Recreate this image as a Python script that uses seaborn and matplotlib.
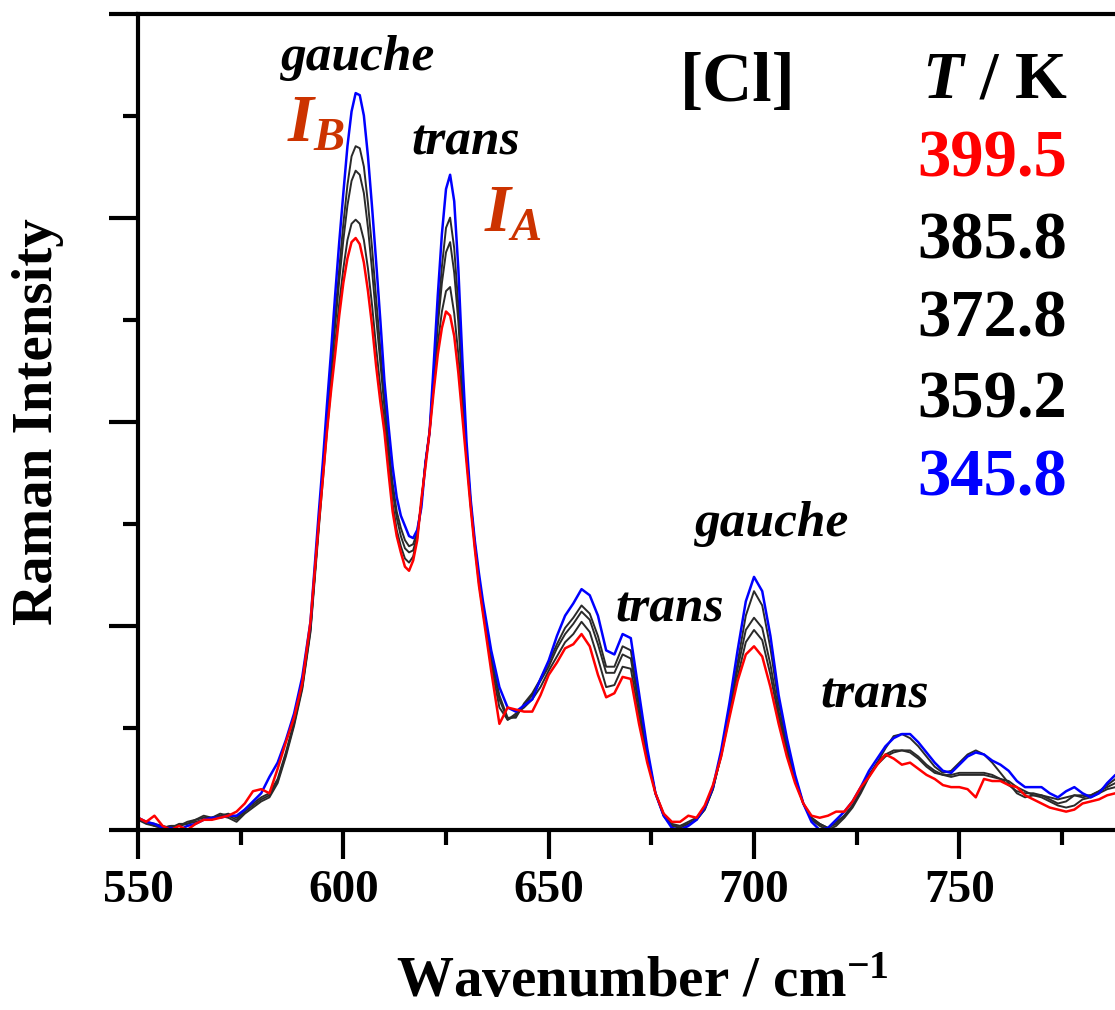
import numpy as np
import seaborn as sns
import matplotlib.pyplot as plt
from matplotlib.ticker import MultipleLocator

# Raman spectra of [Cl] at several temperatures
wavenumber = list(range(550, 593, 2)) + list(range(594, 635)) + list(range(636, 789, 2))

int_3458 = [.06, .04, .03, .01, .01, .00, .02, .03, .05, .06, .06, .07, .07, .10, .14, .18, .26, .33, .44, .57, .75, 1.02,
            1.55, 1.80, 2.08, 2.34, 2.62, 2.88, 3.12, 3.35, 3.52, 3.61, 3.60, 3.50, 3.30, 3.05, 2.78, 2.50, 2.20, 1.98, 1.78, 1.63,
            1.54, 1.49, 1.44, 1.43, 1.47, 1.58, 1.80, 1.95, 2.28, 2.62, 2.92, 3.14, 3.21, 3.08, 2.75, 2.30, 1.90, 1.62, 1.42, 1.26, 1.12,
            .88, .70, .60, .58, .61, .64, .74, .83, .95, 1.05, 1.11,
            1.18, 1.15, 1.05, .88, .86, .96, .94,
            .67, .40, .18, .07, .01,
            .00, .02, .05, .11, .21,
            .39, .62, .88, 1.12, 1.24,
            1.17, .95, .66, .45, .27,
            .13, .04, .00, .01, .05,
            .09, .14, .21, .29, .35,
            .41, .45, .47, .47, .43,
            .38, .33, .29, .28, .32,
            .36, .38, .37, .34, .32,
            .29, .24, .21, .21, .21,
            .18, .16, .19, .21, .18,
            .16, .18, .23, .27]

int_3592 = [.05, .03, .02, .01, .02, .02, .04, .05, .06, .06, .08, .07, .05, .09, .12, .15, .17, .24, .37, .52, .70, .98,
            1.50, 1.76, 2.02, 2.27, 2.52, 2.75, 2.97, 3.16, 3.30, 3.35, 3.34, 3.25, 3.07, 2.85, 2.60, 2.36, 2.11, 1.90, 1.70, 1.56,
            1.48, 1.42, 1.39, 1.40, 1.46, 1.60, 1.80, 1.95, 2.24, 2.52, 2.76, 2.95, 3.00, 2.85, 2.57, 2.20, 1.86, 1.61, 1.41, 1.24, 1.10,
            .85, .66, .55, .55, .62, .67, .74, .82, .91, .99, 1.04,
            1.10, 1.06, .95, .80, .80, .90, .88,
            .62, .38, .18, .07, .02,
            .01, .03, .05, .10, .20,
            .37, .59, .82, 1.05, 1.17,
            1.10, .89, .62, .42, .26,
            .13, .05, .02, .00, .02,
            .06, .11, .18, .26, .33,
            .40, .46, .47, .45, .41,
            .36, .31, .28, .29, .33,
            .37, .39, .37, .33, .28,
            .23, .18, .16, .17, .17,
            .15, .13, .14, .17, .17,
            .17, .19, .22, .25]

int_3728 = [.06, .04, .03, .02, .01, .03, .03, .04, .05, .06, .07, .08, .06, .10, .13, .16, .18, .25, .38, .53, .71, .99,
            1.49, 1.74, 1.99, 2.24, 2.47, 2.69, 2.89, 3.06, 3.18, 3.23, 3.21, 3.12, 2.95, 2.74, 2.51, 2.29, 2.07, 1.86, 1.66, 1.53,
            1.44, 1.38, 1.36, 1.37, 1.44, 1.60, 1.80, 1.95, 2.21, 2.47, 2.68, 2.83, 2.88, 2.73, 2.49, 2.15, 1.85, 1.60, 1.40, 1.23, 1.09,
            .84, .64, .54, .56, .61, .66, .73, .80, .89, .96, 1.01,
            1.07, 1.03, .91, .77, .77, .86, .84,
            .60, .37, .18, .07, .02,
            .02, .03, .05, .10, .20,
            .37, .58, .79, .98, 1.04,
            .99, .81, .58, .40, .25,
            .13, .06, .03, .01, .03,
            .07, .12, .19, .27, .33,
            .37, .39, .39, .39, .36,
            .32, .29, .27, .27, .28,
            .28, .28, .28, .27, .25,
            .22, .19, .18, .18, .17,
            .16, .15, .16, .17, .16,
            .17, .19, .21, .23]

int_3858 = [.05, .04, .02, .01, .02, .02, .03, .05, .07, .06, .07, .06, .04, .08, .11, .14, .16, .23, .36, .51, .69, .97,
            1.47, 1.71, 1.95, 2.17, 2.38, 2.58, 2.75, 2.89, 2.97, 2.99, 2.97, 2.89, 2.75, 2.57, 2.36, 2.17, 2.00, 1.79, 1.60, 1.47,
            1.39, 1.33, 1.31, 1.34, 1.43, 1.61, 1.80, 1.95, 2.17, 2.38, 2.54, 2.64, 2.66, 2.53, 2.33, 2.07, 1.82, 1.59, 1.39, 1.21, 1.07,
            .81, .60, .54, .57, .60, .64, .70, .78, .85, .92, .96,
            1.02, .97, .84, .70, .71, .80, .79,
            .56, .35, .18, .08, .03,
            .02, .04, .06, .11, .21,
            .36, .56, .75, .92, .98,
            .93, .76, .55, .38, .24,
            .13, .06, .03, .01, .04,
            .07, .12, .19, .27, .32,
            .36, .38, .39, .38, .35,
            .31, .28, .27, .26, .27,
            .27, .27, .27, .26, .25,
            .24, .21, .19, .17, .16,
            .14, .12, .11, .12, .15,
            .16, .18, .20, .21]

int_3995 = [.06, .04, .07, .02, .00, .02, .00, .03, .05, .05, .06, .07, .09, .13, .19, .20, .18, .30, .43, .55, .72, 1.02,
            1.50, 1.72, 1.95, 2.15, 2.33, 2.52, 2.68, 2.80, 2.88, 2.90, 2.87, 2.78, 2.64, 2.47, 2.27, 2.10, 1.95, 1.75, 1.56, 1.44,
            1.36, 1.29, 1.27, 1.32, 1.42, 1.62, 1.78, 1.95, 2.15, 2.33, 2.46, 2.54, 2.52, 2.42, 2.24, 2.02, 1.80, 1.58, 1.38, 1.20, 1.06,
            .78, .52, .60, .59, .58, .58, .66, .76, .82, .89, .91,
            .96, .90, .76, .65, .67, .75, .74,
            .52, .33, .18, .08, .04,
            .04, .07, .06, .12, .22,
            .36, .55, .73, .86, .90,
            .85, .70, .52, .36, .23,
            .13, .07, .06, .07, .09,
            .09, .14, .21, .26, .32,
            .37, .35, .32, .33, .30,
            .27, .25, .22, .21, .21,
            .20, .16, .25, .24, .24,
            .22, .21, .17, .15, .13,
            .11, .10, .09, .10, .13,
            .14, .15, .17, .18]

temperaturas = ['399.5', '385.8', '372.8', '359.2', '345.8']
colores_temp = ['#ff0000', '#000000', '#000000', '#000000', '#0000ff']

sns.set_theme(style='ticks', rc={'axes.edgecolor': 'black', 'xtick.color': 'black',
                                 'ytick.color': 'black', 'text.color': 'black',
                                 'axes.labelcolor': 'black',
                                 'xtick.bottom': True, 'ytick.left': True})
plt.rcParams['font.family'] = ['Liberation Serif', 'DejaVu Serif']
plt.rcParams['font.weight'] = 'bold'
plt.rcParams['mathtext.fontset'] = 'custom'
plt.rcParams['mathtext.rm'] = 'Liberation Serif:bold'
plt.rcParams['mathtext.it'] = 'Liberation Serif:italic:bold'
plt.rcParams['mathtext.bf'] = 'Liberation Serif:bold'

fig = plt.figure(figsize=(11.15, 10.10), dpi=100)
ax = fig.add_axes([138 / 1115, 180 / 1010, 977 / 1115, 816.5 / 1010])

# grises primero, luego azul y rojo encima
for serie in [int_3592, int_3728, int_3858]:
    sns.lineplot(x=wavenumber, y=serie, color='#2a2a2a', linewidth=1.4, ax=ax)
sns.lineplot(x=wavenumber, y=int_3458, color='#0000ff', linewidth=1.8, ax=ax)
sns.lineplot(x=wavenumber, y=int_3995, color='#ff0000', linewidth=1.8, ax=ax)

ax.set_xlim(550, 787.9)
ax.set_ylim(0, 4)
ax.xaxis.set_major_locator(MultipleLocator(50))
ax.xaxis.set_minor_locator(MultipleLocator(25))
ax.yaxis.set_major_locator(MultipleLocator(1))
ax.yaxis.set_minor_locator(MultipleLocator(0.5))

# ticks hacia fuera, gruesos
ax.xaxis.set_tick_params(which='major', bottom=True, top=False, direction='out', length=21, width=3,
                         color='black', labelsize=34, pad=8, labelcolor='black')
ax.xaxis.set_tick_params(which='minor', bottom=True, top=False, direction='out', length=11, width=3,
                         color='black')
ax.yaxis.set_tick_params(which='major', left=True, right=False, direction='out', length=21, width=3,
                         color='black', labelleft=False)
ax.yaxis.set_tick_params(which='minor', left=True, right=False, direction='out', length=11, width=3,
                         color='black')
ax.spines['right'].set_visible(False)
for s in ['left', 'bottom', 'top']:
    ax.spines[s].set_linewidth(3)
    ax.spines[s].set_color('black')
for lab in ax.get_xticklabels():
    lab.set_fontweight('bold')

ax.set_xlabel('Wavenumber / cm$^{-1}$', fontsize=41, fontweight='bold', va='baseline', color='black')
ax.xaxis.set_label_coords(0.516, -0.205)
ax.set_ylabel('Raman Intensity', fontsize=41, fontweight='bold', va='center', color='black')
ax.yaxis.set_label_coords(-0.102, 0.5)

# anotaciones de los picos
etiquetas = [('gauche', 603.6, 3.725), ('trans', 629.9, 3.31), ('trans', 679.6, 1.02),
             ('gauche', 704.4, 1.44), ('trans', 729.4, 0.60)]
for txt, xx, yy in etiquetas:
    ax.text(xx, yy, txt, fontsize=37, fontstyle='italic', fontweight='bold',
            ha='center', va='baseline')

ax.text(586.3, 3.37, '$I_{B}$', fontsize=48, color='#cc3300', ha='left', va='baseline')
ax.text(634.3, 2.93, '$I_{A}$', fontsize=48, color='#cc3300', ha='left', va='baseline')

ax.text(696.1, 3.57, '[Cl]', fontsize=50, fontweight='bold', ha='center', va='baseline')
ax.text(776.3, 3.59, '$T$ / K', fontsize=48, fontweight='bold', ha='right', va='baseline')
y_temp = [3.20, 2.80, 2.42, 2.02, 1.64]
for t, c, yy in zip(temperaturas, colores_temp, y_temp):
    ax.text(776.3, yy, t, fontsize=48, fontweight='bold', color=c, ha='right', va='baseline')

# render en el canvas (con ticks) y guardar ese mismo buffer
fig.canvas.draw()
img = np.asarray(fig.canvas.buffer_rgba()).copy()
fig.savefig('out.png', dpi=100)
plt.imsave('out.png', img)
